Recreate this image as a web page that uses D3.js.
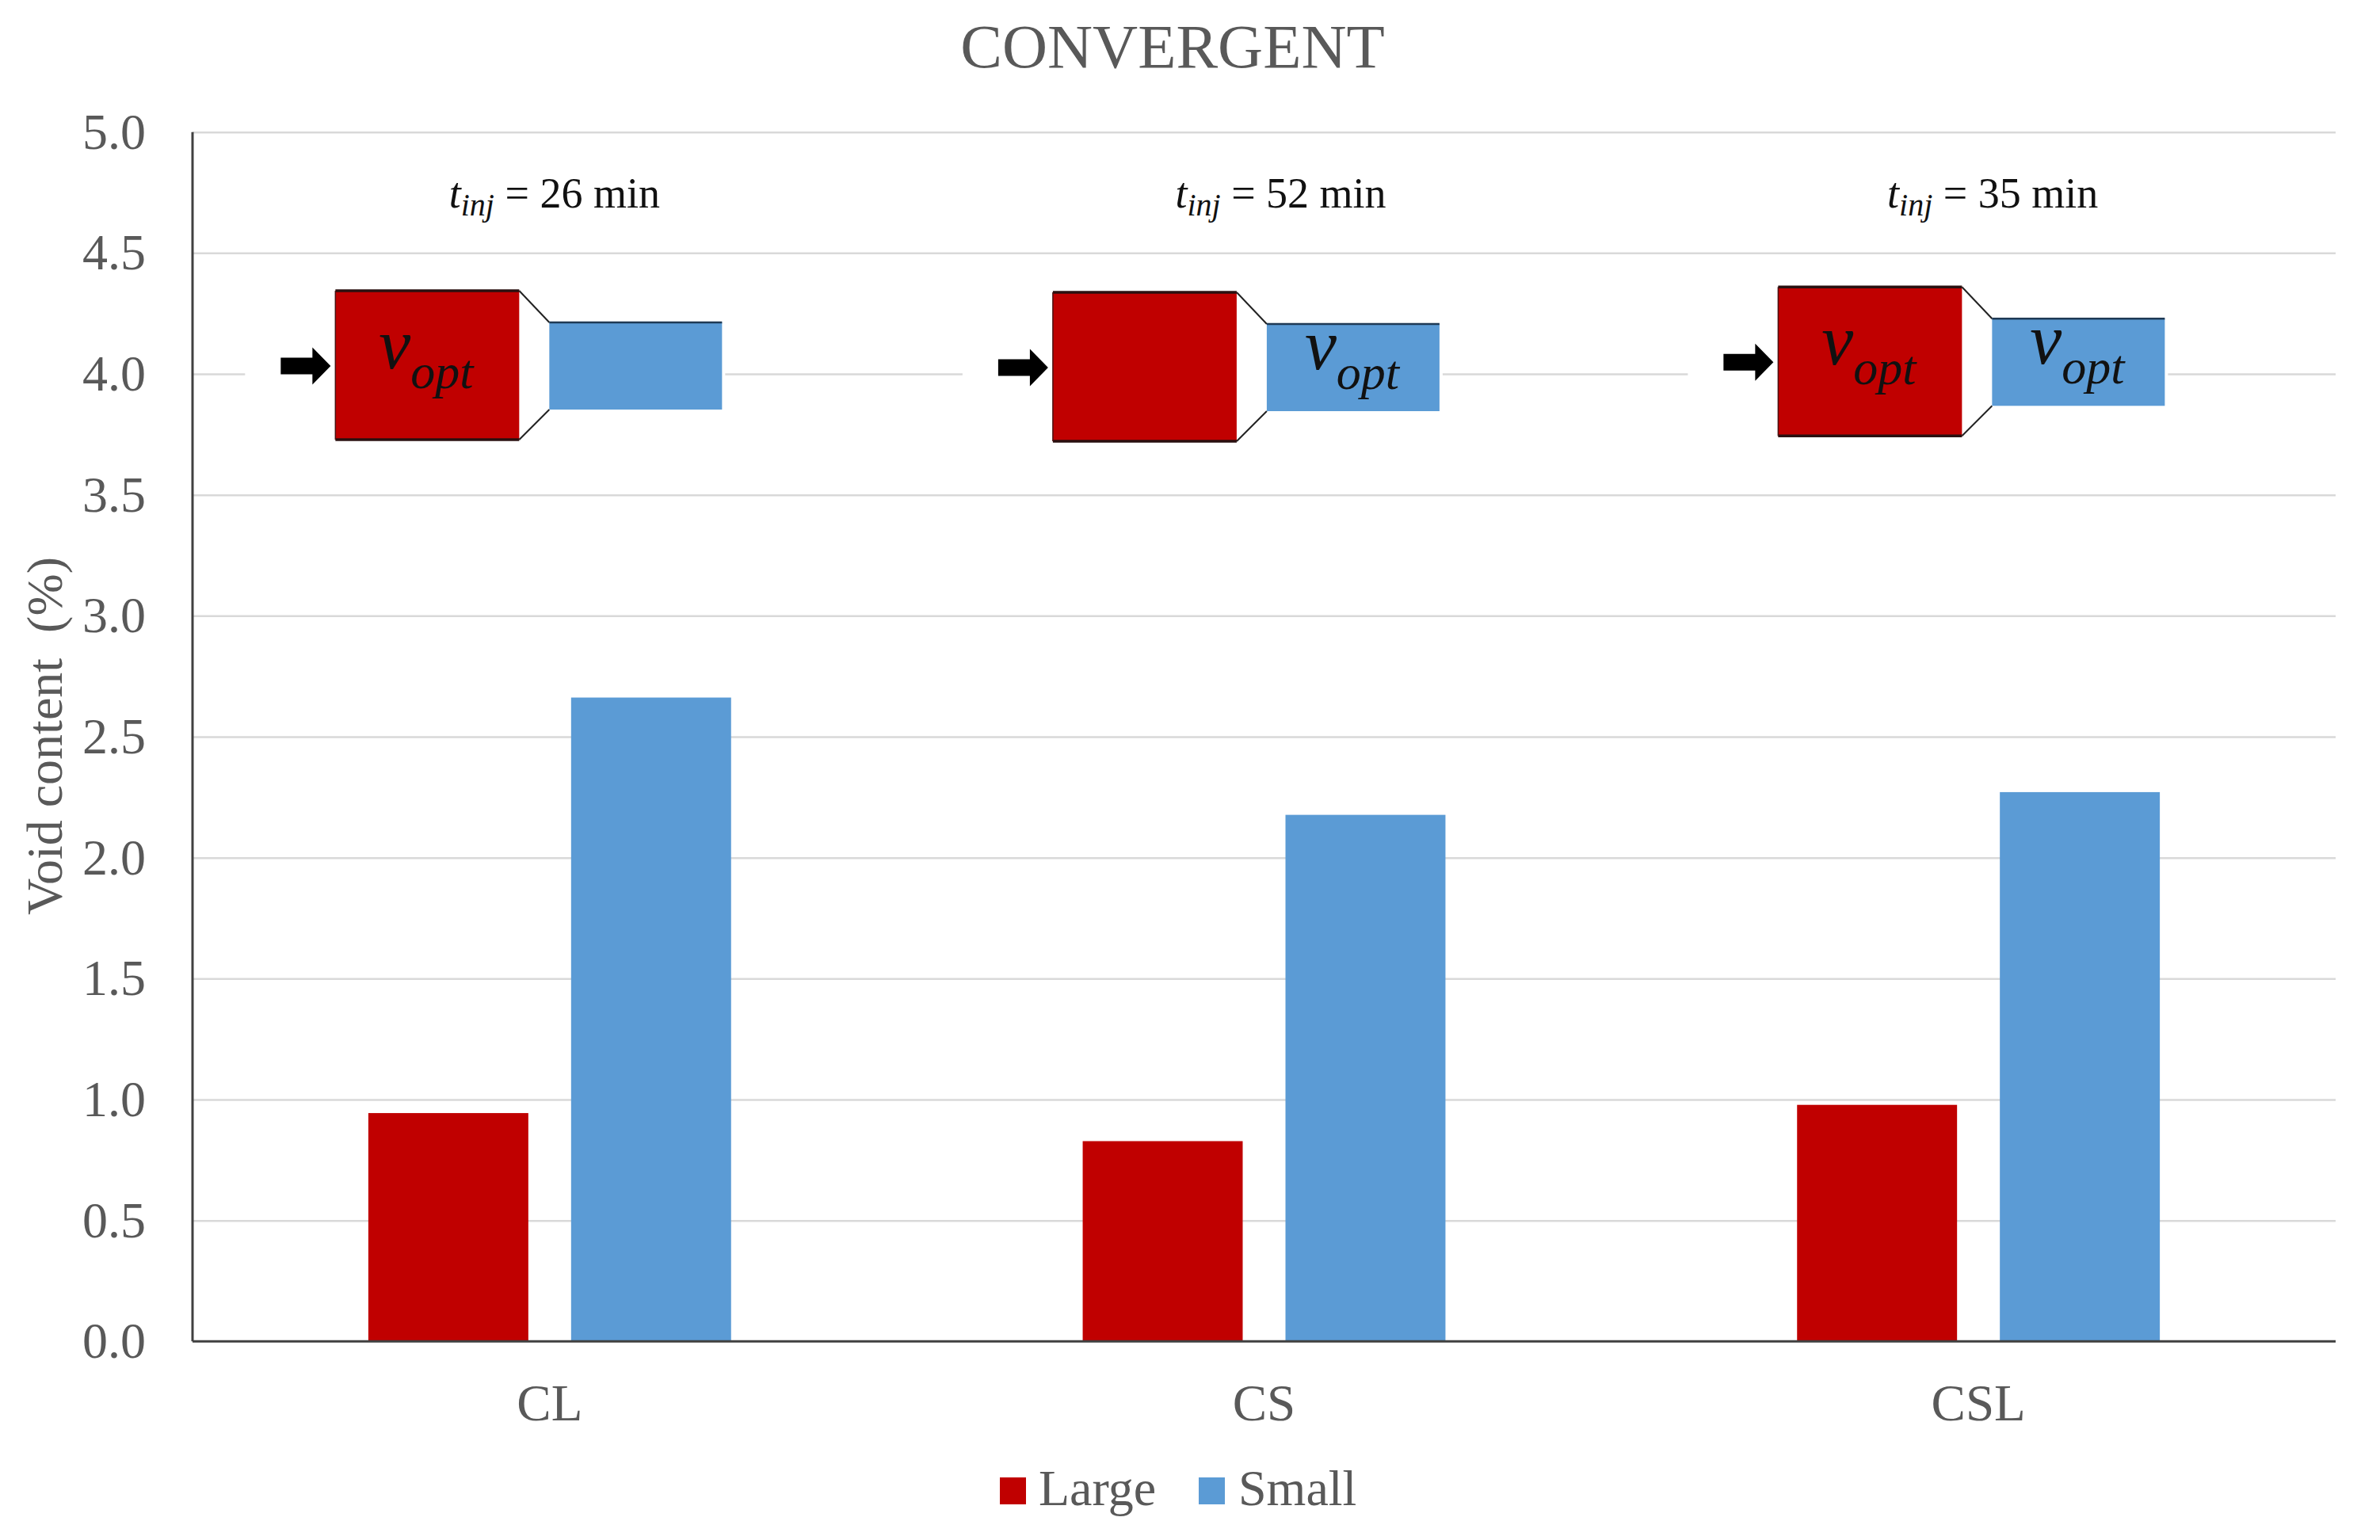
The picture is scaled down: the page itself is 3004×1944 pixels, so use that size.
<!DOCTYPE html>
<html>
<head>
<meta charset="utf-8">
<script src="https://cdn.jsdelivr.net/npm/d3@7/dist/d3.min.js"></script>
<style>
  html, body { margin: 0; padding: 0; background: #ffffff; }
  svg { display: block; }
</style>
</head>
<body>
<svg id="chart" width="3004" height="1944"></svg>
<script>
// ---------------- data ----------------
const categories = ["CL", "CS", "CSL"];
const series = ["Large", "Small"];
const largeValues = [0.944, 0.828, 0.978];
const smallValues = [2.662, 2.177, 2.271];
const yTicks = [0.0, 0.5, 1.0, 1.5, 2.0, 2.5, 3.0, 3.5, 4.0, 4.5, 5.0];
const injTimes = [26, 52, 35];
const vOptInLarge = [true, false, true];
const vOptInSmall = [false, true, true];
const titleText = "CONVERGENT";
const yLabel = "Void content  (%)";

// ---------------- layout / style ----------------
const W = 3004, H = 1944;
const plot = { left: 243, right: 2948, top: 166.7, bottom: 1693.3 };
const colors = { Large: "#C00000", Small: "#5B9BD5" };
const serif = "'Liberation Serif', 'Times New Roman', Times, serif";
const textGray = "#595959";
// diagram offsets relative to category centre (annotation placement)
const diagramDx = [-270.5, -266.6, -252.8];
const diagramTop = [367, 369, 362.3];
const labelDx = [6, 21, 18];

const svg = d3.select("#chart");
svg.append("rect").attr("width", W).attr("height", H).attr("fill", "#fff");

const x0 = d3.scaleBand().domain(categories).range([plot.left, plot.right]).padding(0);
const x1 = d3.scaleBand().domain(series).range([0, x0.bandwidth()])
  .paddingInner(0.211).paddingOuter(0.867);
const y = d3.scaleLinear().domain([0, 5]).range([plot.bottom, plot.top]);

const rows = categories.map((c, i) => ({ cat: c, Large: largeValues[i], Small: smallValues[i] }));

// gridlines
svg.append("g")
  .attr("transform", `translate(${plot.left},0)`)
  .call(d3.axisLeft(y).tickValues(yTicks.filter(t => t > 0)).tickSize(-(plot.right - plot.left)).tickFormat(""))
  .call(g => g.select(".domain").remove())
  .call(g => g.selectAll(".tick line").attr("stroke", "#d9d9d9").attr("stroke-width", 2.5));

// bars
const groups = svg.append("g").selectAll("g").data(rows).join("g")
  .attr("transform", d => `translate(${x0(d.cat)},0)`);
groups.selectAll("rect").data(d => series.map(s => ({ s, v: d[s] }))).join("rect")
  .attr("x", d => x1(d.s))
  .attr("width", x1.bandwidth())
  .attr("y", d => y(d.v))
  .attr("height", d => y(0) - y(d.v))
  .attr("fill", d => colors[d.s]);

// y tick labels
svg.append("g")
  .attr("transform", `translate(${plot.left},0)`)
  .call(d3.axisLeft(y).tickValues(yTicks).tickSize(0).tickPadding(59).tickFormat(d3.format(".1f")))
  .call(g => g.select(".domain").remove())
  .call(g => g.selectAll("text").attr("font-family", serif).attr("font-size", 64).attr("fill", textGray));

// x category labels
svg.append("g")
  .attr("transform", `translate(0,${plot.bottom})`)
  .call(d3.axisBottom(x0).tickSize(0))
  .call(g => g.select(".domain").remove())
  .call(g => g.selectAll("text").attr("dy", null).attr("y", 100)
    .attr("font-family", serif).attr("font-size", 65).attr("fill", textGray));

// axis lines
svg.append("line").attr("x1", plot.left).attr("x2", plot.left)
  .attr("y1", y(5)).attr("y2", y(0)).attr("stroke", "#404040").attr("stroke-width", 3);
svg.append("line").attr("x1", plot.left).attr("x2", plot.right)
  .attr("y1", y(0)).attr("y2", y(0)).attr("stroke", "#404040").attr("stroke-width", 3);

// title
svg.append("text").attr("x", 1480).attr("y", 85).attr("text-anchor", "middle")
  .attr("font-family", serif).attr("font-size", 79).attr("fill", textGray).text(titleText);

// y label
svg.append("text").attr("transform", "translate(78,929) rotate(-90)").attr("text-anchor", "middle")
  .attr("font-family", serif).attr("font-size", 64).attr("fill", textGray)
  .style("white-space", "pre").text(yLabel);

// t_inj labels
categories.forEach((c, i) => {
  const cx = x0(c) + x0.bandwidth() / 2 + labelDx[i];
  const t = svg.append("text").attr("x", cx).attr("y", 262).attr("text-anchor", "middle")
    .attr("font-family", serif).attr("font-size", 54).attr("fill", "#111");
  t.append("tspan").attr("font-style", "italic").text("t");
  t.append("tspan").attr("font-style", "italic").attr("font-size", 40).attr("dy", 10).text("inj");
  t.append("tspan").attr("dy", -10).text(` = ${injTimes[i]} min`);
});

// flow diagrams
const RW = 232, RH = 188, FW = 38, BT = 40, BW = 218, BH = 110;
function vopt(g, x, baseline) {
  const t = g.append("text").attr("x", x).attr("y", baseline)
    .attr("font-family", serif).attr("font-style", "italic").attr("fill", "#111");
  t.append("tspan").attr("font-size", 90).text("v");
  t.append("tspan").attr("font-size", 62).attr("dy", 25).text("opt");
}
categories.forEach((c, i) => {
  const ox = x0(c) + x0.bandwidth() / 2 + diagramDx[i];
  const g = svg.append("g").attr("transform", `translate(${ox},${diagramTop[i]})`);
  g.append("rect").attr("x", -114).attr("y", -30).attr("width", 114 + RW + FW + BW + 4).attr("height", 250).attr("fill", "#fff");
  // arrow
  const cy = 95;
  g.append("polygon").attr("fill", "#000")
    .attr("points", [[-69, cy - 10.5], [-29, cy - 10.5], [-29, cy - 23.5], [-6, cy], [-29, cy + 23.5], [-29, cy + 10.5], [-69, cy + 10.5]].map(p => p.join(",")).join(" "));
  // funnel
  g.append("polygon").attr("fill", "#fff")
    .attr("points", [[RW, 0], [RW + FW, BT], [RW + FW, BT + BH], [RW, RH]].map(p => p.join(",")).join(" "));
  g.append("line").attr("x1", RW).attr("y1", 0).attr("x2", RW + FW).attr("y2", BT).attr("stroke", "#222").attr("stroke-width", 2);
  g.append("line").attr("x1", RW).attr("y1", RH).attr("x2", RW + FW).attr("y2", BT + BH).attr("stroke", "#222").attr("stroke-width", 2);
  // red block
  g.append("rect").attr("x", 0).attr("y", 0).attr("width", RW).attr("height", RH).attr("fill", colors.Large);
  g.append("line").attr("x1", 0).attr("x2", RW).attr("y1", 0).attr("y2", 0).attr("stroke", "#2a1010").attr("stroke-width", 3.5);
  g.append("line").attr("x1", 0).attr("x2", RW).attr("y1", RH).attr("y2", RH).attr("stroke", "#2a1010").attr("stroke-width", 3.5);
  g.append("line").attr("x1", 0).attr("x2", 0).attr("y1", 0).attr("y2", RH).attr("stroke", "#4a1010").attr("stroke-width", 1.5);
  // blue block
  g.append("rect").attr("x", RW + FW).attr("y", BT).attr("width", BW).attr("height", BH).attr("fill", colors.Small);
  g.append("line").attr("x1", RW + FW).attr("x2", RW + FW + BW).attr("y1", BT).attr("y2", BT).attr("stroke", "#1f3a55").attr("stroke-width", 2.5);
  if (vOptInLarge[i]) vopt(g, 55, 98);
  if (vOptInSmall[i]) vopt(g, RW + FW + 48, 97);
});

// legend
const legendItems = [
  { s: "Large", sx: 1262, tx: 1311 },
  { s: "Small", sx: 1513, tx: 1563 }
];
const lg = svg.append("g");
lg.selectAll("rect").data(legendItems).join("rect")
  .attr("x", d => d.sx).attr("y", 1865).attr("width", 33).attr("height", 34).attr("fill", d => colors[d.s]);
lg.selectAll("text").data(legendItems).join("text")
  .attr("x", d => d.tx).attr("y", 1900).attr("font-family", serif).attr("font-size", 64).attr("fill", textGray)
  .text(d => d.s);
</script>
</body>
</html>
